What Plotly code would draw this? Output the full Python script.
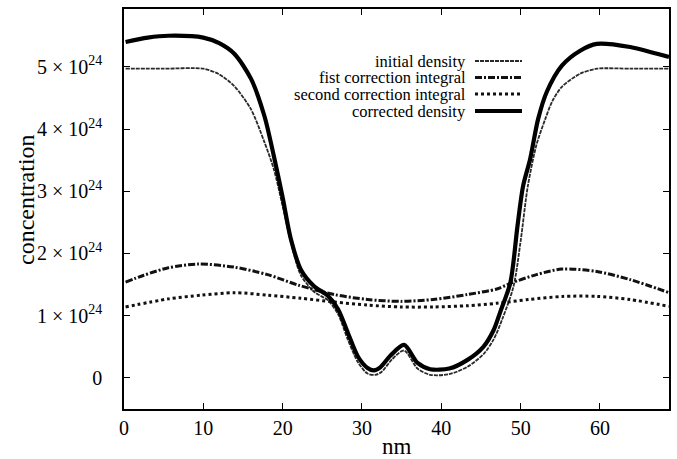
import plotly.graph_objects as go

# ---- data (concentration in units of 1e24) ----
x_initial = [0.2, 5, 10, 12, 13.9, 16, 17.7, 18.9, 20, 21.2, 22.3, 24, 25.7, 27, 28.2, 29.5, 30.7, 31.7,
             32.5, 33.8, 35.3, 37, 38.6, 41, 43.3, 45.3, 46.6, 47.7, 49.1, 50, 50.9, 52, 53.1, 54, 55.2,
             57.5, 59.6, 64, 68.7]
y_initial = [4.97, 4.97, 4.97, 4.88, 4.69, 4.32, 3.79, 3.35, 2.76, 2.10, 1.65, 1.38, 1.25, 1.02, 0.62, 0.25,
             0.07, 0.05, 0.10, 0.30, 0.44, 0.15, 0.05, 0.06, 0.18, 0.38, 0.62, 0.95, 1.47, 2.20, 3.08, 3.75,
             4.16, 4.45, 4.68, 4.89, 4.97, 4.97, 4.97]

x_first = [0.2, 2.5, 5.6, 9.4, 13.9, 18.1, 22, 26.5, 30.7, 34.9, 39, 43.3, 47, 48.7, 52, 55.2, 59.6, 63.8, 68.7]
y_first = [1.54, 1.65, 1.77, 1.83, 1.78, 1.66, 1.49, 1.34, 1.26, 1.23, 1.26, 1.34, 1.43, 1.52, 1.66, 1.75,
           1.71, 1.58, 1.37]

x_second = [0.2, 5.6, 9.8, 13.9, 18.1, 22.3, 26.5, 30.7, 34.9, 39, 43.3, 47, 51, 55.3, 59.6, 63.8, 68.7]
y_second = [1.14, 1.27, 1.33, 1.37, 1.33, 1.28, 1.22, 1.17, 1.14, 1.14, 1.16, 1.20, 1.26, 1.31, 1.31, 1.26, 1.15]

x_corrected = [0.2, 3, 5.6, 10, 12, 13.9, 16, 17.7, 18.9, 20, 21, 22.3, 24, 25.7, 27, 28.2, 29.5, 30.7, 31.5,
               32.3, 33.6, 35.3, 37, 38.6, 41, 43.3, 45.3, 46.6, 47.4, 48.7, 49.6, 50.3, 51.2, 52.2, 53.3,
               55.2, 57.5, 59.6, 63.8, 67.2, 68.7]
y_corrected = [5.40, 5.47, 5.50, 5.47, 5.38, 5.21, 4.81, 4.21, 3.56, 2.90, 2.25, 1.74, 1.47, 1.32, 1.10, 0.73,
               0.34, 0.16, 0.12, 0.17, 0.36, 0.53, 0.24, 0.14, 0.15, 0.29, 0.50, 0.77, 1.05, 1.53, 2.44, 3.08,
               3.52, 4.16, 4.60, 5.02, 5.26, 5.37, 5.32, 5.21, 5.16]

series_names = ["initial density", "fist correction integral", "second correction integral", "corrected density"]

x_ticks = [0, 10, 20, 30, 40, 50, 60]
y_tick_vals = [0, 1, 2, 3, 4, 5]
y_tick_text = ["0", "1 × 10<sup>24</sup>", "2 × 10<sup>24</sup>", "3 × 10<sup>24</sup>",
               "4 × 10<sup>24</sup>", "5 × 10<sup>24</sup>"]

SCALE = 1e24
FONT = "Liberation Serif"

styles = [
    dict(color="#2a2a2a", width=1.8, dash="4px,1px"),
    dict(color="#111111", width=3, dash="7px,2px,2px,2px"),
    dict(color="#111111", width=3, dash="3px,3px"),
    dict(color="#000000", width=4.2, dash="solid"),
]
data = [(x_initial, y_initial), (x_first, y_first), (x_second, y_second), (x_corrected, y_corrected)]

fig = go.Figure()
for (xs, ys), name, st in zip(data, series_names, styles):
    fig.add_trace(go.Scatter(
        x=xs, y=[v * SCALE for v in ys], mode="lines", name=name,
        line=dict(color=st["color"], width=st["width"], dash=st["dash"], shape="spline", smoothing=0.8),
        showlegend=False,
    ))

W, H = 677, 459
L, R, T, B = 124, 669, 9, 409


def px(xp):
    return (xp - L) / (R - L)


def py(yp):
    return (B - yp) / (B - T)


# legend drawn as text + sample lines
rows = [61, 77.5, 94, 111]
for name, st, ry in zip(series_names, styles, rows):
    fig.add_annotation(text=name, xref="paper", yref="paper", x=px(467), y=py(ry),
                       xanchor="right", yanchor="middle", showarrow=False, borderpad=0,
                       font=dict(family=FONT, size=16.5, color="black"))
    fig.add_shape(type="line", xref="paper", yref="paper", x0=px(475), x1=px(522), y0=py(ry), y1=py(ry),
                  line=dict(color=st["color"], width=st["width"], dash=st["dash"]))

# axis titles
fig.add_annotation(text="nm", xref="paper", yref="paper", x=px(397), y=py(446),
                   xanchor="center", yanchor="middle", showarrow=False,
                   font=dict(family=FONT, size=23, color="black"))
fig.add_annotation(text="concentration", xref="paper", yref="paper", x=px(26), y=py(200),
                   xanchor="center", yanchor="middle", showarrow=False, textangle=-90,
                   font=dict(family=FONT, size=24, color="black"))

fig.update_layout(
    width=W, height=H,
    margin=dict(l=L, r=W - R, t=T, b=H - B, autoexpand=False),
    paper_bgcolor="white", plot_bgcolor="white",
    font=dict(family=FONT, size=20, color="black"),
)
fig.update_xaxes(
    range=[0, 68.7], tickvals=x_ticks, ticks="inside", ticklen=6, tickwidth=1.2, tickcolor="black",
    showline=True, linecolor="black", linewidth=1.5, mirror="ticks", showgrid=False, zeroline=False,
    tickfont=dict(family=FONT, size=20), automargin=False,
)
fig.update_yaxes(
    range=[-0.5 * SCALE, 5.93 * SCALE], tickvals=[v * SCALE for v in y_tick_vals], ticktext=y_tick_text,
    ticks="inside", ticklen=6, tickwidth=1.2, tickcolor="black",
    showline=True, linecolor="black", linewidth=1.5, mirror="ticks", showgrid=False, zeroline=False,
    tickfont=dict(family=FONT, size=20), ticklabelstandoff=16, automargin=False,
)

fig.write_html("out.html", config={"displayModeBar": False},
               post_script="document.body.style.margin='0px';")
